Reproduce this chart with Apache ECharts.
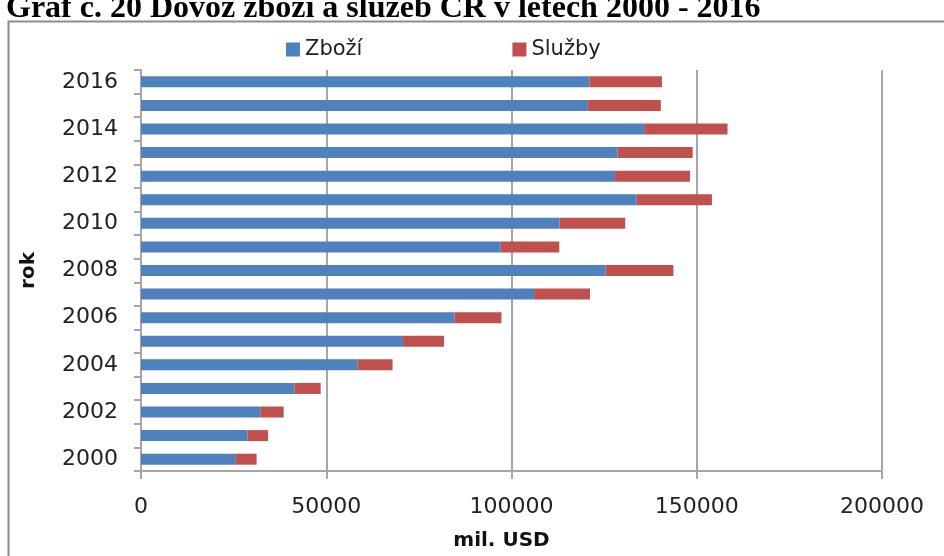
<!DOCTYPE html>
<html>
<head>
<meta charset="utf-8">
<script src="https://cdn.jsdelivr.net/npm/echarts@6/dist/echarts.min.js"></script>
<style>
html,body{margin:0;padding:0;background:#fff;}
#chart{width:944px;height:556px;}
</style>
</head>
<body>
<div id="chart"></div>
<script>
const years = ['2000','2001','2002','2003','2004','2005','2006','2007','2008','2009','2010','2011','2012','2013','2014','2015','2016'];
const zbozi = [25600, 28700, 32200, 41400, 58500, 70700, 84600, 106100, 125400, 97100, 113000, 133800, 127900, 128600, 135800, 120600, 121000];
const sluzby = [5600, 5600, 6300, 7100, 9400, 11100, 12700, 15100, 18300, 15800, 17700, 20300, 20300, 20300, 22500, 19700, 19600];
const xTicks = [0, 50000, 100000, 150000, 200000];
const titleText = 'Graf č. 20 Dovoz zboží a služeb ČR v letech 2000 - 2016';

const chart = echarts.init(document.getElementById('chart'), null, {renderer: 'canvas'});
const labelFont = 'DejaVu Sans';
chart.setOption({
  animation: false,
  backgroundColor: '#ffffff',
  graphic: [
    {
      type: 'text',
      x: 6, y: 25,
      style: {
        text: titleText,
        font: 'bold 32px "Liberation Serif", "Times New Roman", serif',
        fill: '#000',
        verticalAlign: 'bottom'
      },
      silent: true
    },
    {
      type: 'rect',
      shape: {x: 8.5, y: 21.5, width: 1000, height: 600},
      style: {fill: 'none', stroke: '#8c8c8c', lineWidth: 2},
      silent: true
    }
  ],
  legend: {
    left: 281,
    top: 34,
    itemWidth: 14,
    itemHeight: 14,
    itemGap: 150,
    icon: 'rect',
    textStyle: {fontFamily: labelFont, fontSize: 21, color: '#222'},
    data: ['Zboží', 'Služby']
  },
  grid: {left: 141, right: 62, top: 70, bottom: 84},
  xAxis: {
    type: 'value',
    min: 0,
    max: 200000,
    interval: 50000,
    name: 'mil. USD',
    nameLocation: 'middle',
    nameGap: 60,
    nameTextStyle: {fontFamily: labelFont, fontSize: 20, fontWeight: 'bold', color: '#111', padding: [0, 20, 0, 0]},
    axisLine: {show: true, lineStyle: {color: '#a6a6a6', width: 2}},
    axisTick: {show: true, length: 8, lineStyle: {color: '#a6a6a6', width: 2}},
    axisLabel: {
      fontFamily: labelFont, fontSize: 22, color: '#222', margin: 25,
      formatter: function (v) { return xTicks.indexOf(v) >= 0 ? String(v) : ''; }
    },
    splitLine: {show: true, lineStyle: {color: '#a6a6a6', width: 2}}
  },
  yAxis: {
    type: 'category',
    data: years,
    name: 'rok',
    nameLocation: 'middle',
    nameRotate: 90,
    nameGap: 102,
    nameTextStyle: {fontFamily: labelFont, fontSize: 20, fontWeight: 'bold', color: '#111'},
    axisLine: {show: true, lineStyle: {color: '#a6a6a6', width: 2}},
    axisTick: {show: true, interval: 0, length: 7, alignWithLabel: false, lineStyle: {color: '#a6a6a6', width: 2}},
    axisLabel: {interval: 1, fontFamily: labelFont, fontSize: 22, color: '#222', margin: 23},
    splitLine: {show: false}
  },
  series: [
    {
      name: 'Zboží', type: 'bar', stack: 'total', data: zbozi, barWidth: 11,
      itemStyle: {color: '#4F81BD'}
    },
    {
      name: 'Služby', type: 'bar', stack: 'total', data: sluzby, barWidth: 11,
      itemStyle: {color: '#C0504D'}
    }
  ]
});
</script>
</body>
</html>
